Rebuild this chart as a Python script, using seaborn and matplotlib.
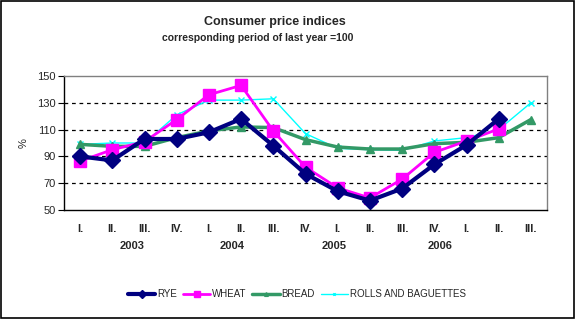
import numpy as np
import pandas as pd
import matplotlib
matplotlib.use("Agg")
import matplotlib.pyplot as plt
import seaborn as sns
from matplotlib.patches import Rectangle

quarters = ["I.", "II.", "III.", "IV.", "I.", "II.", "III.", "IV.",
            "I.", "II.", "III.", "IV.", "I.", "II.", "III."]
years = ["2003", "2004", "2005", "2006"]
rye = [90, 87, 103, 103, 108, 118, 98, 77, 64, 57, 66, 84, 98.5, 118, np.nan]
wheat = [86.5, 95, 101, 117.5, 136, 143, 109, 82, 66.5, 59, 73, 93, 101.5, 110.5, np.nan]
bread = [99, 97.5, 97.5, 104, 109, 112, 111.5, 102.5, 97, 95.5, 95.5, 99.5, 100.5, 104, 117.5]
rolls = [99, 100, 100, 121, 132, 132, 133, 107, 96, 95, 94.5, 101.5, 104, 110, 130]
series_names = ["RYE", "WHEAT", "BREAD", "ROLLS AND BAGUETTES"]

sns.set_style("white")
plt.rcParams["font.family"] = ["Liberation Sans", "DejaVu Sans"]

fig = plt.figure(figsize=(5.77, 3.24), dpi=100)
ax = fig.add_axes([64/577, 1-210/324, (547-64)/577, (210-76)/324])

idx = np.arange(len(quarters))
df = pd.DataFrame({"x": np.tile(idx, 4),
                   "value": rye + wheat + bread + rolls,
                   "series": np.repeat(series_names, len(quarters))}).dropna()

styles = {
    "RYE": dict(color="#000080", marker="D", lw=3.0, ms=8, mew=1),
    "WHEAT": dict(color="#FF00FF", marker="s", lw=2.0, ms=9, mew=1),
    "BREAD": dict(color="#339966", marker="^", lw=2.5, ms=6, mew=1),
    "ROLLS AND BAGUETTES": dict(color="#00FFFF", marker="x", lw=1.0, ms=4, mew=1),
}
for name in ["ROLLS AND BAGUETTES", "BREAD", "WHEAT", "RYE"]:
    st = styles[name]
    sub = df[df["series"] == name]
    sns.lineplot(data=sub, x="x", y="value", ax=ax, color=st["color"],
                 marker=st["marker"], linewidth=st["lw"], markersize=st["ms"],
                 markeredgecolor=st["color"], markeredgewidth=st["mew"],
                 label=name, legend=False)

ax.set_xlim(-0.5, len(quarters) - 0.5)
ax.set_ylim(50, 150)
ax.set_yticks([50, 70, 90, 110, 130, 150])
ax.set_yticklabels(["50", "70", "90", "110", "130", "150"], fontsize=8)
ax.set_xticks(idx)
ax.set_xticklabels(quarters, fontsize=8, fontweight="bold")
ax.tick_params(axis="x", length=0, pad=10)
ax.set_xticks(np.arange(-0.5, len(quarters), 1), minor=True)
ax.tick_params(axis="x", which="minor", length=4, direction="out", color="black")
ax.tick_params(axis="y", length=4, direction="out", color="black", pad=2, left=True)
ax.set_xlabel("")
ax.set_ylabel("%", fontsize=8, labelpad=6)

for yv in [70, 90, 110, 130]:
    ax.axhline(yv, color="black", lw=0.9, ls=(0, (3, 3)), zorder=0)

for s in ["left", "bottom"]:
    ax.spines[s].set_color("black")
    ax.spines[s].set_linewidth(1)
for s in ["top", "right"]:
    ax.spines[s].set_color("#808080")
    ax.spines[s].set_linewidth(1)

year_x = [132, 232, 334, 440]
for yx, yr in zip(year_x, years):
    fig.text(yx/577, 1-246/324, yr, ha="center", va="center", fontsize=8, fontweight="bold")

fig.text(275/577, 1-22/324, "Consumer price indices", ha="center", va="center",
         fontsize=9, fontweight="bold")
fig.text(258/577, 1-38/324, "corresponding period of last year =100", ha="center",
         va="center", fontsize=7.5, fontweight="bold")

handles, labels = ax.get_legend_handles_labels()
order = [labels.index(n) for n in series_names]
leg = fig.legend([handles[i] for i in order], [labels[i] for i in order],
                 loc="center", bbox_to_anchor=(297/577, 1-294/324), ncol=4,
                 frameon=False, fontsize=7, handlelength=2.8, columnspacing=0.6,
                 handletextpad=0.2, markerscale=0.45)

fig.patches.append(Rectangle((0.002, 1-318/324), 0.993, 318/324 - 0.004,
                             transform=fig.transFigure, fill=False,
                             edgecolor="black", lw=1.2))

fig.savefig("out.png", dpi=100)
